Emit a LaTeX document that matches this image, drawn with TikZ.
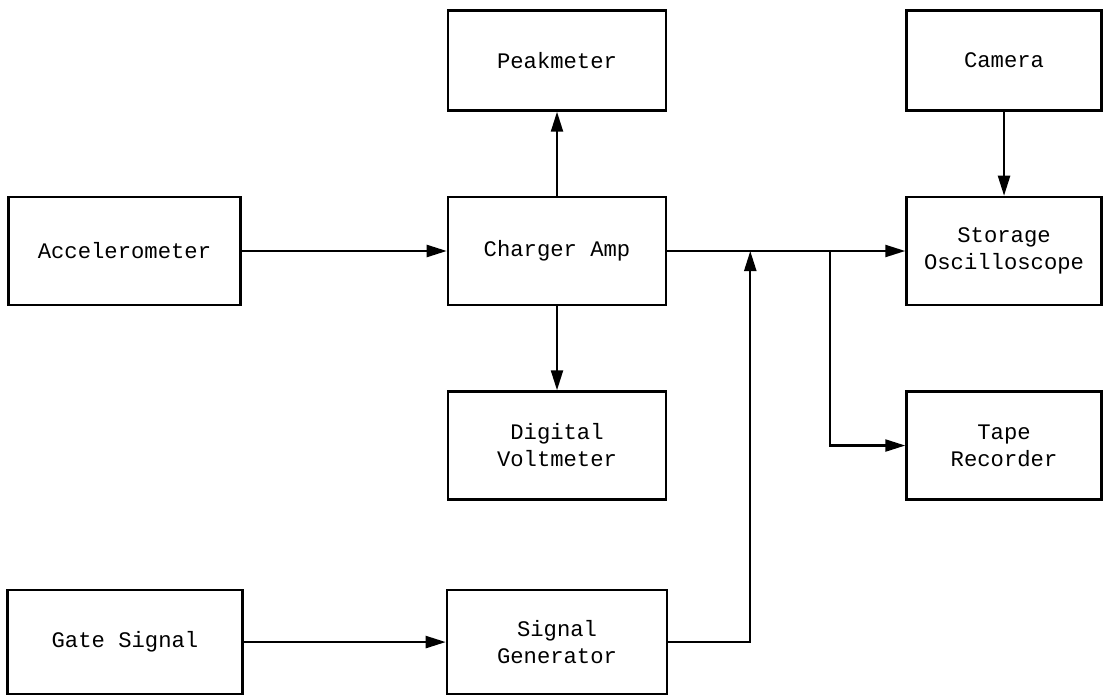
\documentclass[tikz,border=0pt]{standalone}
\usepackage{fontspec}
\setmonofont{Liberation Mono}
\usepackage{tikz}
\usetikzlibrary{arrows.meta, positioning}
\tikzstyle{block} = [rectangle, minimum height=2.7cm, text centered, align=center, draw=black, line width=1.8pt, font=\ttfamily\fontsize{15.8}{19.2}\selectfont]
\tikzstyle{arrow} = [line width=1.6pt, -{Triangle[length=0.5cm, width=0.3cm]}]
\tikzstyle{line} = [line width=1.6pt]

\begin{document}
\begin{tikzpicture}[node distance=2.1cm]
    \useasboundingbox (0,0) rectangle (27.575,-17.35);
    \node (amp) [block, minimum width=5.45cm] at (13.925,-6.275) {Charger Amp};
    \node (peak) [block, minimum width=5.45cm, minimum height=2.5cm, above=of amp] {Peakmeter};
    \node (volt) [block, minimum width=5.45cm, below=of amp] {Digital\\Voltmeter};
    \node (acc) [block, minimum width=5.8cm, left=5.125cm of amp] {Accelerometer};
    \node (osc) [block, minimum width=4.875cm, right=5.95cm of amp] {Storage\\Oscilloscope};
    \node (cam) [block, minimum width=4.875cm, minimum height=2.5cm, above=of osc] {Camera};
    \node (tape) [block, minimum width=4.875cm, below=of osc] {Tape\\Recorder};
    \node (gen) [block, minimum width=5.5cm, minimum height=2.6cm, below=2.2cm of volt] {Signal\\Generator};
    \node (gate) [block, minimum width=5.875cm, minimum height=2.6cm, left=5.05cm of gen] {Gate Signal};
    \coordinate [right=2.075cm of amp.east] (join);
    \coordinate [right=4.075cm of amp.east] (split);
    \draw [arrow] (acc) -- (amp);
    \draw [arrow] (amp) -- (peak);
    \draw [arrow] (amp) -- (volt);
    \draw [arrow] (amp) -- (osc);
    \draw [arrow] (cam) -- (osc);
    \draw [arrow] (split) |- (tape.west);
    \draw [line] (split) -- (split |- amp.east);
    \draw [arrow] (gate) -- (gen);
    \draw [arrow] (gen.east) -| (join);
\end{tikzpicture}
\end{document}
